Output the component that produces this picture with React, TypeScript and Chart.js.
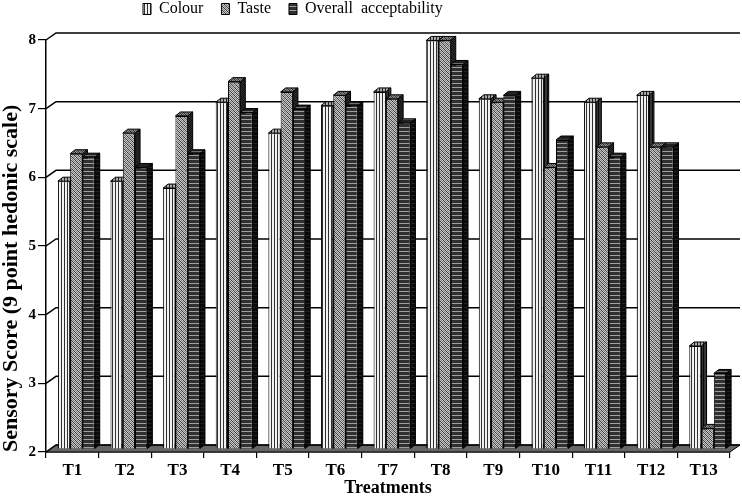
import { useEffect, useRef } from "react";
import { Chart, registerables } from "chart.js";

Chart.register(...registerables);

const categories = ["T1", "T2", "T3", "T4", "T5", "T6", "T7", "T8", "T9", "T10", "T11", "T12", "T13"];
const colourScores = [5.9, 5.9, 5.8, 7.05, 6.6, 7.0, 7.2, 7.95, 7.1, 7.4, 7.05, 7.15, 3.5];
const tasteScores = [6.3, 6.6, 6.85, 7.35, 7.2, 7.15, 7.1, 7.95, 7.05, 6.1, 6.4, 6.4, 2.3];
const overallScores = [6.25, 6.1, 6.3, 6.9, 6.95, 7.0, 6.75, 7.6, 7.15, 6.5, 6.25, 6.4, 3.1];
const seriesNames = ["Colour", "Taste", "Overall  acceptability"];
const yTickValues = [2, 3, 4, 5, 6, 7, 8];
const xTitle = "Treatments";
const yTitle = "Sensory Score (9 point hedonic scale)";

const FONT = "'Liberation Serif', 'Times New Roman', serif";
const DX = 10;
const DY = 7;
const BDX = 5;
const BDY = 4;
const SHIFT_X = 4;
const SHIFT_Y = 3;

function makePattern(kind: string): CanvasPattern | string {
  const c = document.createElement("canvas");
  const g = c.getContext("2d");
  if (!g) return "#888";
  if (kind === "vertical") {
    c.width = 3;
    c.height = 1;
    g.fillStyle = "#f2f2f2";
    g.fillRect(0, 0, 3, 1);
    g.fillStyle = "#303030";
    g.fillRect(0, 0, 1, 1);
  } else if (kind === "diagonal") {
    c.width = 4;
    c.height = 4;
    g.fillStyle = "#c4c4c4";
    g.fillRect(0, 0, 4, 4);
    g.fillStyle = "#404040";
    for (let i = 0; i < 4; i++) g.fillRect(i, i, 1, 1);
    g.fillStyle = "#808080";
    for (let i = 0; i < 4; i++) g.fillRect((i + 2) % 4, i, 1, 1);
  } else {
    c.width = 1;
    c.height = 4;
    g.fillStyle = "#303030";
    g.fillRect(0, 0, 1, 4);
    g.fillStyle = "#a0a0a0";
    g.fillRect(0, 2, 1, 1);
  }
  return g.createPattern(c, "repeat") || "#888";
}

const pseudo3d = {
  id: "pseudo3d",
  beforeLayout(chart: any) {
    const lg = chart.legend;
    if (lg && !lg.__patched) {
      const orig = lg.fit;
      lg.fit = function () {
        orig.call(this);
        if (this.options.display) this.height = 40;
      };
      lg.__patched = true;
    }
  },
  afterLayout(chart: any) {
    const lg = chart.legend;
    if (!lg || !lg.lineWidths) return;
    const p = lg.options.labels.padding;
    lg.right = 2 * 143 - lg.left - p + lg.lineWidths[0];
    lg.top = 9 - p - 8;
  },
  beforeDatasetsDraw(chart: any) {
    const { ctx, chartArea, scales } = chart;
    const { left, right, bottom } = chartArea;
    const y = scales.y;
    ctx.save();
    // floor
    ctx.beginPath();
    ctx.moveTo(left, bottom);
    ctx.lineTo(right, bottom);
    ctx.lineTo(right + DX, bottom - DY);
    ctx.lineTo(left + DX, bottom - DY);
    ctx.closePath();
    ctx.fillStyle = "#666666";
    ctx.fill();
    ctx.strokeStyle = "#000";
    ctx.lineWidth = 1;
    ctx.stroke();
    // back wall grid lines
    ctx.lineWidth = 1.5;
    yTickValues.forEach((v) => {
      const py = y.getPixelForValue(v);
      ctx.beginPath();
      ctx.moveTo(left, py);
      ctx.lineTo(left + DX, py - DY);
      ctx.lineTo(right + DX, py - DY);
      ctx.stroke();
    });
    // bars with 3D faces
    ctx.translate(SHIFT_X, -SHIFT_Y);
    chart.data.datasets.forEach((ds: any, i: number) => {
      const meta = chart.getDatasetMeta(i);
      meta.data.forEach((el: any) => {
        el.draw(ctx);
        const { x, y: yy, base, width } = el.getProps(["x", "y", "base", "width"], true);
        const l = x - width / 2;
        const r = x + width / 2;
        // top face
        ctx.beginPath();
        ctx.moveTo(l, yy);
        ctx.lineTo(l + BDX, yy - BDY);
        ctx.lineTo(r + BDX, yy - BDY);
        ctx.lineTo(r, yy);
        ctx.closePath();
        ctx.fillStyle = ds.backgroundColor;
        ctx.fill();
        ctx.fillStyle = "rgba(0,0,0,0.3)";
        ctx.fill();
        ctx.lineWidth = 1;
        ctx.strokeStyle = "#000";
        ctx.stroke();
        // side face
        ctx.beginPath();
        ctx.moveTo(r, yy);
        ctx.lineTo(r + BDX, yy - BDY);
        ctx.lineTo(r + BDX, base - BDY);
        ctx.lineTo(r, base);
        ctx.closePath();
        ctx.fillStyle = ds.backgroundColor;
        ctx.fill();
        ctx.fillStyle = "rgba(0,0,0,0.78)";
        ctx.fill();
        ctx.stroke();
      });
    });
    ctx.restore();
    return false;
  },
};

export default function App() {
  const ref = useRef<HTMLCanvasElement | null>(null);
  useEffect(() => {
    if (!ref.current) return;
    Chart.defaults.font.family = FONT;
    const patterns = [makePattern("vertical"), makePattern("diagonal"), makePattern("horizontal")];
    const values = [colourScores, tasteScores, overallScores];
    const chart = new Chart(ref.current, {
      type: "bar",
      data: {
        labels: categories,
        datasets: seriesNames.map((name, i) => ({
          label: name,
          data: values[i],
          base: 2,
          backgroundColor: patterns[i] as any,
          borderColor: "#000",
          borderWidth: 1,
          categoryPercentage: 0.7,
          barPercentage: 1.0,
        })),
      },
      options: {
        animation: false,
        responsive: true,
        maintainAspectRatio: false,
        layout: { padding: { left: 0, right: 12, top: 0, bottom: 0 } },
        plugins: {
          legend: {
            position: "top",
            labels: {
              boxWidth: 8,
              boxHeight: 11,
              padding: 18,
              color: "#000",
              font: { family: FONT, size: 16 },
            },
          },
          tooltip: { enabled: false },
        },
        scales: {
          x: {
            ticks: { color: "#000", font: { family: FONT, size: 17, weight: "bold" }, padding: 2 },
            grid: { offset: true, drawOnChartArea: false, tickLength: 6, color: "#000", lineWidth: 1.2 },
            border: { display: true, color: "#000", width: 1.5 },
            title: {
              display: true,
              text: xTitle,
              color: "#000",
              font: { family: FONT, size: 18, weight: "bold", lineHeight: 1 },
              padding: 0,
            },
            afterFit: (s: any) => {
              s.height = 45;
            },
          },
          y: {
            min: 2,
            max: 8,
            ticks: { stepSize: 1, color: "#000", font: { family: FONT, size: 15, weight: "bold" }, padding: 2 },
            grid: { drawOnChartArea: false, tickLength: 8, color: "#000", lineWidth: 1.2 },
            border: { display: true, color: "#000", width: 1.5 },
            title: {
              display: true,
              text: yTitle,
              align: "start",
              color: "#000",
              font: { family: FONT, size: 22, weight: "bold", lineHeight: 1 },
              padding: 0,
            },
            afterFit: (s: any) => {
              s.width = 46;
            },
          },
        },
      },
      plugins: [pseudo3d as any],
    });
    return () => chart.destroy();
  }, []);
  return (
    <div style={{ position: "fixed", left: 0, top: 0, width: 742, height: 497, background: "#fff" }}>
      <canvas ref={ref} />
    </div>
  );
}
